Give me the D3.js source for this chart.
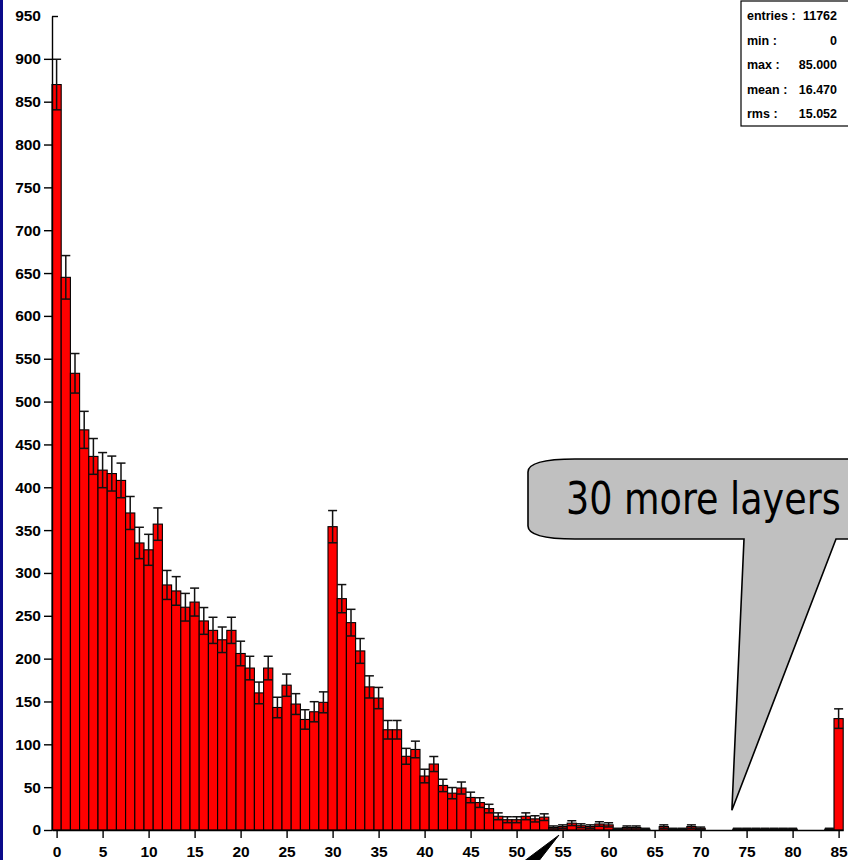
<!DOCTYPE html>
<html>
<head>
<meta charset="utf-8">
<script src="https://cdn.jsdelivr.net/npm/d3@7"></script>
<style>
  html, body { margin: 0; padding: 0; background: #ffffff; }
  svg { display: block; }
  .tick text { font-family: "Liberation Sans", Arial, sans-serif; font-weight: bold; font-size: 15.5px; fill: #000; }
  .stat { font-family: "Liberation Sans", Arial, sans-serif; font-weight: bold; font-size: 12.5px; fill: #000; }
</style>
</head>
<body>
<script>
// Entries per bin (number of hit layers, one bin per integer 0..85)
const counts = [
  870, 645, 533, 467, 436, 420, 416, 408, 370, 335,
  327, 357, 286, 279, 260, 266, 244, 233, 222, 233,
  206, 189, 160, 189, 143, 169, 147, 129, 138, 149,
  354, 270, 242, 209, 167, 154, 117, 117, 86, 94,
  63, 77, 52, 43, 49, 38, 32, 25, 16, 12,
  12, 16, 13, 15, 3, 4, 8, 5, 4, 7,
  6, 1, 3, 3, 1, 0, 4, 1, 1, 4,
  2, 0, 0, 0, 1, 1, 1, 1, 1, 1,
  1, 0, 0, 0, 1, 130
];
const xTicks = [0, 5, 10, 15, 20, 25, 30, 35, 40, 45, 50, 55, 60, 65, 70, 75, 80, 85];
const yTicks = [0, 50, 100, 150, 200, 250, 300, 350, 400, 450, 500, 550, 600, 650, 700, 750, 800, 850, 900, 950];
const statLabels = ["entries :", "min :", "max :", "mean :", "rms :"];
const statValues = ["11762", "0", "85.000", "16.470", "15.052"];
const calloutText = "30 more layers";

const W = 848, H = 860;
const svg = d3.select("body").append("svg").attr("width", W).attr("height", H);

const x = d3.scaleLinear().domain([-0.5, 85.5]).range([52, 843.2]);
const y = d3.scaleLinear().domain([0, 950]).range([830, 16]);

// left window border
svg.append("rect").attr("x", 0).attr("y", 0).attr("width", 3).attr("height", H).attr("fill", "#0a0a8a");

// histogram bars
const bins = counts.map((v, i) => ({ bin: i, value: v }));
svg.append("g").selectAll("rect").data(bins).join("rect")
  .attr("x", d => x(d.bin - 0.5))
  .attr("y", d => y(d.value))
  .attr("width", d => x(d.bin + 0.5) - x(d.bin - 0.5))
  .attr("height", d => y(0) - y(d.value))
  .attr("fill", "#ff0000")
  .attr("stroke", "#000")
  .attr("stroke-width", 1.1);

// statistical error bars (sqrt N)
const eg = svg.append("g").attr("stroke", "#111").attr("stroke-width", 1.5).attr("fill", "none");
bins.filter(d => d.value > 0).forEach(d => {
  const e = Math.sqrt(d.value);
  const cx = x(d.bin);
  const hi = y(d.value + e), lo = y(Math.max(0, d.value - e));
  const x0 = x(d.bin - 0.5), x1 = x(d.bin + 0.5);
  eg.append("line").attr("x1", cx).attr("x2", cx).attr("y1", hi).attr("y2", lo);
  eg.append("line").attr("x1", cx - 4.5).attr("x2", cx + 4.5).attr("y1", hi).attr("y2", hi);
  eg.append("line").attr("x1", x0).attr("x2", x1).attr("y1", lo).attr("y2", lo);
});

// axes
const yAxis = svg.append("g").attr("transform", `translate(${x(-0.5)},0)`)
  .call(d3.axisLeft(y).tickValues(yTicks).tickSize(8).tickSizeOuter(0).tickPadding(3));
const xAxis = svg.append("g").attr("transform", `translate(0,${y(0)})`)
  .call(d3.axisBottom(x).tickValues(xTicks).tickSize(8).tickSizeOuter(0).tickPadding(8));
[yAxis, xAxis].forEach(g => {
  g.selectAll("path.domain").attr("stroke", "#000").attr("stroke-width", 1.4);
  g.selectAll(".tick line").attr("stroke", "#000").attr("stroke-width", 1.4);
});
// top tick crosses the frame
yAxis.selectAll(".tick").filter(d => d === 950).select("line").attr("x2", 6);

// statistics box
const sb = svg.append("g");
sb.append("rect").attr("x", 741).attr("y", 1).attr("width", 130).attr("height", 125)
  .attr("fill", "#fff").attr("stroke", "#000").attr("stroke-width", 1.2);
statLabels.forEach((s, i) => {
  const by = 20 + 24.6 * i;
  sb.append("text").attr("class", "stat").attr("x", 747).attr("y", by).text(s);
  sb.append("text").attr("class", "stat").attr("x", 837).attr("y", by)
    .attr("text-anchor", "end").text(statValues[i]);
});

// speech-bubble annotation pointing at the overflow bin
const tipX = x(73.4), tipY = y(23);
const bubble = d3.path();
bubble.moveTo(575, 459);
bubble.lineTo(870, 459);
bubble.lineTo(870, 539);
bubble.lineTo(836, 539);
bubble.lineTo(tipX, tipY);
bubble.lineTo(744, 539);
bubble.lineTo(575, 539);
bubble.quadraticCurveTo(528, 539, 528, 526);
bubble.lineTo(528, 472);
bubble.quadraticCurveTo(528, 459, 575, 459);
bubble.closePath();
svg.append("path").attr("d", bubble.toString())
  .attr("fill", "#c0c0c0").attr("stroke", "#000").attr("stroke-width", 1.6).attr("stroke-linejoin", "miter");
svg.append("text").attr("transform", "translate(566,514) scale(1,1.2)").text(calloutText)
  .attr("font-family", "DejaVu Sans, sans-serif").attr("font-size", 36.5).attr("fill", "#000");

// tail of a second bubble coming from below
const tail = d3.path();
tail.moveTo(x(54.6), y(-6));
tail.lineTo(523, 862);
tail.lineTo(538, 862);
tail.closePath();
svg.append("path").attr("d", tail.toString()).attr("fill", "#000").attr("stroke", "#000").attr("stroke-width", 1);
</script>
</body>
</html>
